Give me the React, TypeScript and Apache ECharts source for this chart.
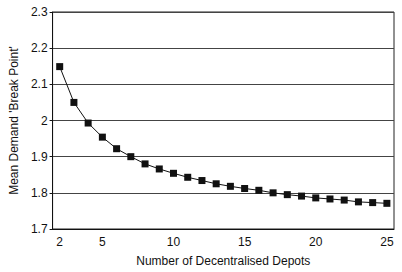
import React, { useEffect, useRef } from "react";
import * as echarts from "echarts";

const depots = ["2","3","4","5","6","7","8","9","10","11","12","13","14","15","16","17","18","19","20","21","22","23","24","25"];
const breakPoint = [2.149, 2.05, 1.993, 1.954, 1.922, 1.900, 1.880, 1.866, 1.854, 1.843, 1.834, 1.825, 1.818, 1.812, 1.807, 1.800, 1.795, 1.791, 1.786, 1.783, 1.780, 1.775, 1.773, 1.771];
const shownLabels = ["2", "5", "10", "15", "20", "25"];

const FONT = "'Liberation Sans', Arial, sans-serif";

export default function App() {
  const ref = useRef<HTMLDivElement>(null);
  useEffect(() => {
    if (!ref.current) return;
    const chart = echarts.init(ref.current, undefined, { renderer: "svg" });
    chart.setOption({
      animation: false,
      backgroundColor: "#ffffff",
      textStyle: { fontFamily: FONT },
      grid: {
        left: 40, right: 8, top: 12, bottom: 37,
        show: true, borderColor: "#222", borderWidth: 1,
      },
      xAxis: {
        type: "category",
        data: depots,
        boundaryGap: true,
        name: "Number of Decentralised Depots",
        nameLocation: "middle",
        nameGap: 26,
        nameTextStyle: { fontSize: 12, color: "#111", fontFamily: FONT },
        axisLine: { lineStyle: { color: "#111", width: 1 } },
        axisTick: { alignWithLabel: true, interval: 0, length: 3, lineStyle: { color: "#111" } },
        axisLabel: {
          interval: 0,
          formatter: (v: string) => (shownLabels.includes(v) ? v : ""),
          fontSize: 12, color: "#111", margin: 7, fontFamily: FONT,
        },
        splitLine: { show: false },
      },
      yAxis: {
        type: "value",
        min: 1.7, max: 2.3, interval: 0.1,
        name: "Mean Demand 'Break Point'",
        nameLocation: "middle",
        nameGap: 31,
        nameTextStyle: { fontSize: 12, color: "#111", fontFamily: FONT },
        axisLine: { show: true, lineStyle: { color: "#111", width: 1 } },
        axisTick: { show: true, length: 3, lineStyle: { color: "#111" } },
        axisLabel: {
          fontSize: 12, color: "#111", margin: 5, fontFamily: FONT,
          formatter: (v: number) => String(Math.round(v * 10) / 10),
        },
        splitLine: { show: true, lineStyle: { color: "#444", width: 1 } },
      },
      series: [
        {
          type: "line",
          data: breakPoint,
          symbol: "rect",
          symbolSize: 7,
          showAllSymbol: true,
          lineStyle: { color: "#111", width: 1 },
          itemStyle: { color: "#111" },
        },
      ],
    });
    return () => chart.dispose();
  }, []);
  return <div ref={ref} style={{ width: 402, height: 272, position: "absolute", left: 0, top: 0 }} />;
}
